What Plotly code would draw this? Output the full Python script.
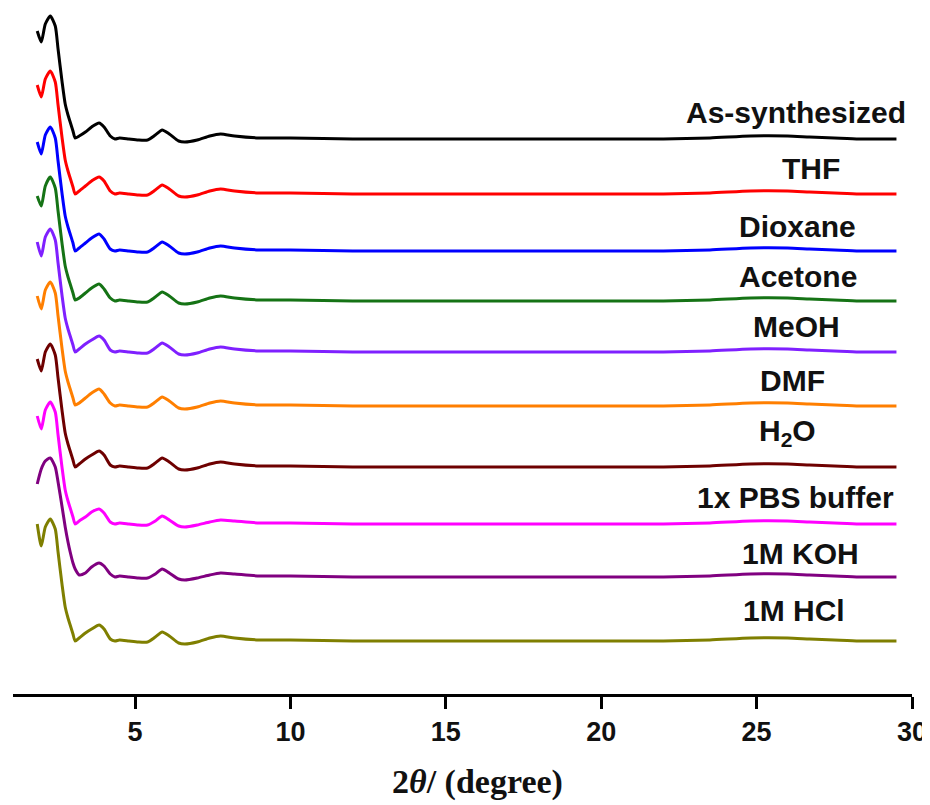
import plotly.graph_objects as go

# 2-theta sampling positions (degree)
two_theta = [1.85, 1.98, 2.11, 2.27, 2.43, 2.52, 2.65, 2.75, 2.84, 2.91, 3.0, 3.07, 3.2, 3.4, 3.6,
             3.84, 4.0, 4.2, 4.35, 4.5, 4.8, 5.1, 5.4, 5.65, 5.87, 6.1, 6.4, 6.6, 7.0, 7.4,
             7.75, 8.2, 9.0, 10.0, 12.0, 16.0, 20.0, 22.0, 23.5, 24.8, 26.0, 26.7, 27.5, 28.3, 29.5]

as_synthesized = [108, 97, 115, 123, 113, 90, 57, 35, 24, 17, 8, 1, 3, 7, 12,
                  16, 12, 3, 0, 1, 0, -1, -1, 4, 9, 5, -2, -3, -1, 3,
                  5, 3, 1, 1, 0, 0, 0, 0, 1, 3, 3, 2, 1, 0, 0]
thf = [109, 97, 115, 123, 112, 89, 56, 34, 23, 16, 7, 0, 3, 8, 13,
       17, 13, 3, 0, 1, 0, -1, -1, 4, 9, 5, -2, -3, -1, 3,
       5, 3, 1, 1, 0, 0, 0, 0, 1, 3, 3, 2, 1, 0, 0]
dioxane = [109, 97, 116, 124, 113, 90, 57, 35, 24, 17, 8, 0, 3, 8, 13,
           17, 12, 2, 0, 1, 0, -1, -1, 4, 9, 5, -2, -3, -1, 3,
           5, 3, 1, 1, 0, 0, 0, 0, 1, 3, 3, 2, 1, 0, 0]
acetone = [105, 95, 115, 124, 113, 90, 57, 35, 24, 17, 8, 1, 3, 8, 13,
           17, 12, 3, 0, 1, 0, -1, -1, 4, 9, 5, -2, -3, -1, 3,
           5, 3, 1, 1, 0, 0, 0, 0, 1, 3, 3, 2, 1, 0, 0]
meoh = [110, 96, 115, 123, 112, 89, 56, 34, 23, 16, 7, 0, 3, 8, 12,
        16, 12, 2, 0, 1, 0, -1, -1, 4, 9, 5, -2, -3, -1, 3,
        5, 3, 1, 1, 0, 0, 0, 0, 1, 3, 3, 2, 1, 0, 0]
dmf = [110, 97, 116, 124, 113, 90, 57, 35, 24, 17, 8, 1, 3, 8, 13,
       17, 12, 3, 0, 1, 0, -1, -1, 4, 9, 5, -2, -3, -1, 3,
       5, 3, 1, 1, 0, 0, 0, 0, 1, 3, 3, 2, 1, 0, 0]
h2o = [108, 96, 115, 123, 112, 89, 56, 34, 23, 16, 7, 0, 3, 8, 12,
       16, 12, 2, 0, 1, 0, -1, -1, 4, 9, 5, -2, -3, -1, 3,
       5, 3, 1, 1, 0, 0, 0, 0, 1, 3, 3, 2, 1, 0, 0]
pbs = [108, 95, 114, 122, 112, 89, 56, 34, 23, 16, 7, 0, 3, 7, 12,
       15, 11, 2, 0, 1, 0, -1, -1, 3, 8, 4, -2, -3, -1, 2,
       4, 3, 1, 1, 0, 0, 0, 0, 1, 3, 3, 2, 1, 0, 0]
koh = [93, 108, 116, 119, 110, 95, 70, 50, 35, 25, 14, 8, 2, 4, 10,
       14, 11, 3, 0, 1, 0, -1, -1, 3, 8, 4, -2, -3, -1, 2,
       4, 3, 1, 1, 0, 0, 0, 0, 1, 3, 3, 2, 1, 0, 0]
hcl = [117, 95, 114, 122, 112, 89, 56, 34, 23, 16, 7, 0, 3, 8, 12,
       16, 12, 2, 0, 1, 0, -1, -1, 4, 9, 5, -2, -3, -1, 3,
       5, 3, 1, 1, 0, 0, 0, 0, 1, 3, 3, 2, 1, 0, 0]

series_names = ["As-synthesized", "THF", "Dioxane", "Acetone", "MeOH", "DMF",
                "H<sub>2</sub>O", "1x PBS buffer", "1M KOH", "1M HCl"]
series_values = [as_synthesized, thf, dioxane, acetone, meoh, dmf, h2o, pbs, koh, hcl]

# vertical stacking offsets (a.u.)
offsets = [555, 500, 443, 393, 342, 288, 227, 170, 117, 53]
colors = ["#000000", "#ff0000", "#0000ff", "#157315", "#7f20ff",
          "#ff7f00", "#6e0000", "#ff00ff", "#800080", "#7f7f00"]
label_x = [26.27, 26.75, 26.33, 26.33, 26.27, 26.14, 25.98, 26.24, 26.4, 26.2]
label_y = [582, 526, 468, 418, 368, 314, 262, 197, 141, 84]

tick_vals = [5, 10, 15, 20, 25, 30]
tick_text = ["5", "10", "15", "20", "25", "30"]

fig = go.Figure()
for name, vals, off, col in zip(series_names, series_values, offsets, colors):
    fig.add_trace(go.Scatter(
        x=two_theta, y=[v + off for v in vals], mode="lines", name=name,
        line=dict(color=col, width=3, shape="spline", smoothing=0.6),
        hoverinfo="skip"))

for name, lx, ly in zip(series_names, label_x, label_y):
    fig.add_annotation(x=lx, y=ly, xref="x", yref="y", text=name, showarrow=False,
                       xanchor="center", yanchor="middle",
                       font=dict(family="Liberation Sans, Arial, sans-serif", size=30,
                                 color="#111111", weight="bold"))

fig.add_annotation(x=0.517, y=-0.128, xref="paper", yref="paper",
                   text="2<i>θ</i>/ (degree)", showarrow=False,
                   xanchor="center", yanchor="middle",
                   font=dict(family="Liberation Serif, Times New Roman, serif", size=34,
                             color="#111111", weight="bold"))

fig.update_layout(
    width=930, height=805,
    margin=dict(l=5, r=26, t=0, b=119, autoexpand=False),
    paper_bgcolor="white", plot_bgcolor="white",
    showlegend=False,
    xaxis=dict(range=[1.07, 30], showgrid=False, zeroline=False, automargin=False,
               showline=True, linecolor="black", linewidth=3,
               ticks="outside", ticklen=12, tickwidth=3, tickcolor="black",
               tickvals=tick_vals, ticktext=tick_text,
               tickfont=dict(family="Liberation Sans, Arial, sans-serif", size=27,
                             color="#111111", weight="bold")),
    yaxis=dict(range=[0, 686], visible=False, showgrid=False, zeroline=False,
               automargin=False),
)

fig.write_html("out.html")
